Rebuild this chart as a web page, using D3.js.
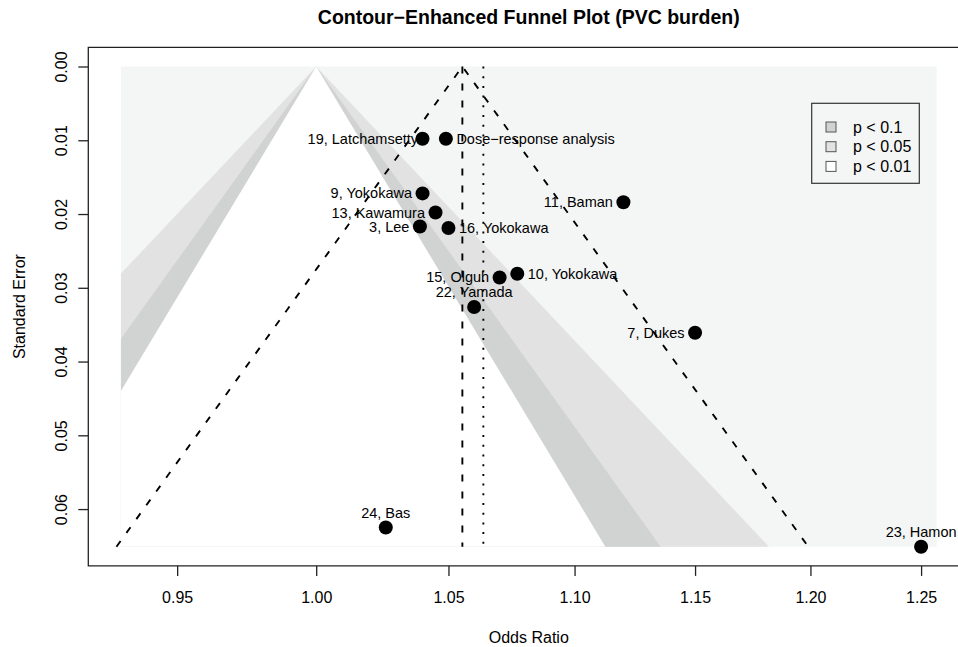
<!DOCTYPE html>
<html>
<head>
<meta charset="utf-8">
<script src="https://cdn.jsdelivr.net/npm/d3@7"></script>
<style>
  body { margin: 0; background: #fff; }
  svg text { font-family: "Liberation Sans", Arial, Helvetica, sans-serif; fill: #000; }
</style>
</head>
<body>
<svg id="chart" width="958" height="647"></svg>
<script>
// studies
const studies = [
  '19, Latchamsetty', 'Dose\u2212response analysis', '9, Yokokawa', '13, Kawamura',
  '3, Lee', '16, Yokokawa', '11, Baman', '15, Olguh', '10, Yokokawa',
  '22, Yamada', '7, Dukes', '24, Bas', '23, Hamon',
];
const oddsRatios = [1.040, 1.049, 1.040, 1.045, 1.039, 1.050, 1.120, 1.070, 1.077, 1.060, 1.150, 1.026, 1.250];
const stdErrors = [0.0098, 0.0098, 0.0172, 0.0198, 0.0217, 0.0219, 0.0184, 0.0286, 0.0281, 0.0326, 0.0361, 0.0625, 0.0651];

// summary estimate (dashed) and second reference line (dotted)
const pooledOR = 1.0554;
const refOR = 1.0636;

// shaded area limits
const orLimits = [0.9305, 1.2572];
const seMax = 0.0651;

// contour levels, outermost first
const contourZ = [2.576, 1.960, 1.645];
const contourFill = ['#e2e2e2', '#d1d2d2', '#ffffff'];
const legendLabels = ['p < 0.1', 'p < 0.05', 'p < 0.01'];
const legendFill = ['#d1d2d2', '#e2e2e2', '#ffffff'];

const xTicks = [0.95, 1.00, 1.05, 1.10, 1.15, 1.20, 1.25];
const yTicks = [0, 0.01, 0.02, 0.03, 0.04, 0.05, 0.06];

// which side of the point each label goes (default: left)
const labelSide = {
  '19, Latchamsetty': 'near',
  'Dose\u2212response analysis': 'right',
  '16, Yokokawa': 'right',
  '10, Yokokawa': 'right',
  '22, Yamada': 'top',
  '24, Bas': 'top',
  '23, Hamon': 'top',
};

const svg = d3.select('#chart');
const box = { left: 88.3, top: 47.3, right: 969.3, bottom: 565.9 };

// R style 4% padding around the shaded area
const lx = orLimits.map(Math.log);
const padX = (lx[1] - lx[0]) * 0.04;
const padY = seMax * 0.04;

const x = d3.scaleLog()
  .domain([Math.exp(lx[0] - padX), Math.exp(lx[1] + padX)])
  .range([box.left, box.right]);
const y = d3.scaleLinear()
  .domain([-padY, seMax + padY])
  .range([box.top, box.bottom]);

svg.append('defs').append('clipPath').attr('id', 'shade')
  .append('rect')
  .attr('x', x(orLimits[0]))
  .attr('y', y(0))
  .attr('width', x(orLimits[1]) - x(orLimits[0]))
  .attr('height', y(seMax) - y(0));

const plot = svg.append('g');

// background = p < 0.01 region
plot.append('rect')
  .attr('x', x(orLimits[0]))
  .attr('y', y(0))
  .attr('width', x(orLimits[1]) - x(orLimits[0]))
  .attr('height', y(seMax) - y(0))
  .style('fill', '#f4f5f5');

// contour triangles centred on OR = 1
const shaded = plot.append('g').attr('clip-path', 'url(#shade)');
contourZ.forEach((z, i) => {
  const pts = [
    [x(1), y(0)],
    [x(Math.exp(-z * seMax)), y(seMax) + 2],
    [x(Math.exp(z * seMax)), y(seMax) + 2],
  ];
  shaded.append('path')
    .attr('d', `M${pts.join('L')}Z`)
    .style('fill', contourFill[i]);
});

// pseudo confidence funnel around the pooled estimate
const lp = Math.log(pooledOR);
const funnel = [
  [x(Math.exp(lp - 1.96 * seMax)), y(seMax)],
  [x(pooledOR), y(0)],
  [x(Math.exp(lp + 1.96 * seMax)), y(seMax)],
];
plot.append('path')
  .attr('d', `M${funnel.join('L')}`)
  .style('fill', 'none')
  .style('stroke', '#000')
  .style('stroke-width', 1.9)
  .style('stroke-dasharray', '7,10');

plot.append('line')
  .attr('x1', x(pooledOR)).attr('x2', x(pooledOR))
  .attr('y1', y(0)).attr('y2', y(seMax))
  .style('stroke', '#000')
  .style('stroke-width', 1.9)
  .style('stroke-dasharray', '7,10');

plot.append('line')
  .attr('x1', x(refOR)).attr('x2', x(refOR))
  .attr('y1', y(0)).attr('y2', y(seMax))
  .style('stroke', '#000')
  .style('stroke-width', 1.9)
  .style('stroke-dasharray', '2,7.7');

// study points and labels
const data = studies.map((name, i) => ({ name, or: oddsRatios[i], se: stdErrors[i] }));

plot.selectAll('circle.study')
  .data(data)
  .join('circle')
  .attr('class', 'study')
  .attr('cx', (d) => x(d.or))
  .attr('cy', (d) => y(d.se))
  .attr('r', 7)
  .style('fill', '#000');

plot.selectAll('text.label')
  .data(data)
  .join('text')
  .attr('class', 'label')
  .each((d, i, n) => {
    const side = labelSide[d.name] || 'left';
    const t = d3.select(n[i]).text(d.name).style('font-size', '14.5px');
    if (side === 'top') {
      t.attr('x', x(d.or)).attr('y', y(d.se) - 10).attr('text-anchor', 'middle');
    } else if (side === 'right') {
      t.attr('x', x(d.or) + 10.5).attr('y', y(d.se) + 5).attr('text-anchor', 'start');
    } else {
      const gap = side === 'near' ? 4.5 : 10.5;
      t.attr('x', x(d.or) - gap).attr('y', y(d.se) + 5).attr('text-anchor', 'end');
    }
  });

// frame
svg.append('path')
  .attr('d', `M${box.left},${box.top}H${box.right}V${box.bottom}H${box.left}Z`)
  .style('fill', 'none')
  .style('stroke', '#222')
  .style('stroke-width', 1.3);

// axes
const xAxis = svg.append('g')
  .attr('transform', `translate(0,${box.bottom})`)
  .call(d3.axisBottom(x).tickValues(xTicks).tickFormat(d3.format('.2f')).tickSize(10).tickPadding(0));
xAxis.select('.domain').remove();
xAxis.selectAll('line').style('stroke', '#222').style('stroke-width', 1.3);
xAxis.selectAll('text')
  .attr('y', 37).attr('dy', null)
  .style('font-size', '16px')
  .style('font-family', '"Liberation Sans", Arial, sans-serif');

const yAxis = svg.append('g')
  .attr('transform', `translate(${box.left},0)`)
  .call(d3.axisLeft(y).tickValues(yTicks).tickFormat(d3.format('.2f')).tickSize(10));
yAxis.select('.domain').remove();
yAxis.selectAll('line').style('stroke', '#222').style('stroke-width', 1.3);
yAxis.selectAll('text')
  .attr('x', null).attr('dy', null)
  .attr('text-anchor', 'middle')
  .attr('transform', 'translate(-21.8,0) rotate(-90)')
  .style('font-size', '16px')
  .style('font-family', '"Liberation Sans", Arial, sans-serif');

// titles
svg.append('text')
  .attr('x', (box.left + box.right) / 2)
  .attr('y', 24)
  .attr('text-anchor', 'middle')
  .style('font-size', '19.5px')
  .style('font-weight', 'bold')
  .text('Contour\u2212Enhanced Funnel Plot (PVC burden)');

svg.append('text')
  .attr('x', (box.left + box.right) / 2)
  .attr('y', 642.7)
  .attr('text-anchor', 'middle')
  .style('font-size', '16px')
  .text('Odds Ratio');

svg.append('text')
  .attr('transform', `translate(24.5,${(box.top + box.bottom) / 2}) rotate(-90)`)
  .attr('text-anchor', 'middle')
  .style('font-size', '16px')
  .text('Standard Error');

// legend
const legend = svg.append('g').attr('class', 'legend');
legend.append('rect')
  .attr('x', 811.7).attr('y', 103.3)
  .attr('width', 107.6).attr('height', 80)
  .style('fill', '#f4f5f5')
  .style('stroke', '#333')
  .style('stroke-width', 1.2);

legend.selectAll('g.item')
  .data(legendLabels)
  .join('g')
  .attr('class', 'item')
  .attr('transform', (d, i) => `translate(826,${127 + i * 19.7})`)
  .each((d, i, n) => {
    const item = d3.select(n[i]);
    item.append('rect')
      .attr('x', 0).attr('y', -5)
      .attr('width', 10).attr('height', 10)
      .style('fill', legendFill[i])
      .style('stroke', '#555')
      .style('stroke-width', 1);
    item.append('text')
      .attr('x', 27).attr('y', 5.5)
      .style('font-size', '16px')
      .text(d);
  });
</script>
</body>
</html>
